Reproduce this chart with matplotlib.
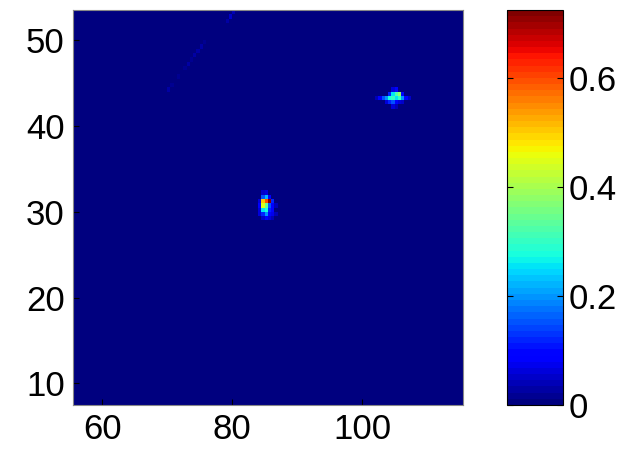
import numpy as np
import matplotlib
matplotlib.use('Agg')
import matplotlib.pyplot as plt

plt.rcParams['font.family'] = ['Liberation Sans', 'DejaVu Sans']

# half-unit grid covering x 55.5..115.5, y 7.5..53.5
step = 0.5
x_centres = np.arange(55.75, 115.5, step)
y_centres = np.arange(7.75, 53.5, step)

# bright spot near (85, 31)
spot_a_x = [84.75, 85.25, 85.75,
            84.25, 84.75, 85.25, 85.75, 86.25,
            84.25, 84.75, 85.25, 85.75, 86.25,
            84.25, 84.75, 85.25, 85.75, 86.25,
            84.25, 84.75, 85.25, 85.75, 86.25,
            84.75, 85.25, 85.75, 86.25,
            84.75, 85.25, 86.75, 86.75]
spot_a_y = [31.75, 31.75, 31.75,
            31.25, 31.25, 31.25, 31.25, 31.25,
            30.75, 30.75, 30.75, 30.75, 30.75,
            30.25, 30.25, 30.25, 30.25, 30.25,
            29.75, 29.75, 29.75, 29.75, 29.75,
            29.25, 29.25, 29.25, 29.25,
            32.25, 32.25, 30.75, 29.75]
spot_a_v = [0.15, 0.22, 0.08,
            0.06, 0.50, 0.60, 0.72, 0.12,
            0.08, 0.45, 0.35, 0.15, 0.08,
            0.06, 0.25, 0.28, 0.12, 0.10,
            0.06, 0.12, 0.20, 0.10, 0.07,
            0.05, 0.08, 0.06, 0.04,
            0.05, 0.06, 0.04, 0.04]

# weaker spot near (105, 43)
spot_b_x = [104.75, 105.25,
            104.25, 104.75, 105.25, 105.75, 106.25,
            102.75, 103.25, 103.75, 104.25, 104.75, 105.25, 105.75, 106.25, 106.75,
            103.75, 104.25, 104.75, 105.25, 105.75, 106.25,
            104.75, 105.25, 107.25, 102.25]
spot_b_y = [44.25, 44.25,
            43.75, 43.75, 43.75, 43.75, 43.75,
            43.25, 43.25, 43.25, 43.25, 43.25, 43.25, 43.25, 43.25, 43.25,
            42.75, 42.75, 42.75, 42.75, 42.75, 42.75,
            42.25, 42.25, 43.25, 43.25]
spot_b_v = [0.06, 0.10,
            0.12, 0.25, 0.32, 0.38, 0.10,
            0.08, 0.15, 0.20, 0.28, 0.30, 0.25, 0.30, 0.20, 0.10,
            0.06, 0.12, 0.15, 0.08, 0.06, 0.05,
            0.06, 0.04, 0.05, 0.04]

# faint diagonal trace, upper left
trace_x = [70.25, 70.75, 71.75, 72.75, 73.25, 73.75, 74.25, 74.75, 75.25, 75.75, 79.25, 79.75, 80.25]
trace_y = [44.25, 44.75, 45.75, 46.75, 47.25, 47.75, 48.25, 48.75, 49.25, 49.75, 52.25, 52.75, 53.25]
trace_v = [0.025, 0.02, 0.02, 0.02, 0.025, 0.02, 0.03, 0.025, 0.03, 0.02, 0.03, 0.05, 0.04]

vmax = 0.725
cbar_ticks = [0, 0.2, 0.4, 0.6]
cbar_labels = ['0', '0.2', '0.4', '0.6']
x_ticks = [60, 80, 100]
y_ticks = [10, 20, 30, 40, 50]

grid = np.zeros((len(y_centres), len(x_centres)))
for xs, ys, vs in [(spot_a_x, spot_a_y, spot_a_v),
                   (spot_b_x, spot_b_y, spot_b_v),
                   (trace_x, trace_y, trace_v)]:
    for x, y, v in zip(xs, ys, vs):
        col = int(round((x - x_centres[0]) / step))
        row = int(round((y - y_centres[0]) / step))
        grid[row, col] = v

fig = plt.figure(figsize=(6.35, 4.58), dpi=100)
ax = fig.add_axes([0.115, 0.116, 0.614, 0.862])
cax = fig.add_axes([0.798, 0.116, 0.088, 0.862])

cmap = plt.get_cmap('jet', 64)
im = ax.imshow(grid, cmap=cmap, vmin=0, vmax=vmax, origin='lower',
               extent=[x_centres[0] - step / 2, x_centres[-1] + step / 2,
                       y_centres[0] - step / 2, y_centres[-1] + step / 2],
               aspect='auto', interpolation='nearest')

ax.set_xticks(x_ticks)
ax.set_yticks(y_ticks)
ax.tick_params(direction='in', labelsize=25, length=4, color='black')
ax.tick_params(axis='x', pad=6)
ax.tick_params(axis='y', pad=6)
for s in ax.spines.values():
    s.set_color('#888888')
    s.set_linewidth(0.8)

cb = fig.colorbar(im, cax=cax, ticks=cbar_ticks)
cb.ax.set_yticklabels(cbar_labels)
cb.ax.tick_params(direction='in', labelsize=25, length=4, pad=4,
                  left=True, right=True)
cb.outline.set_linewidth(0.8)

fig.savefig('out.png', dpi=100)
